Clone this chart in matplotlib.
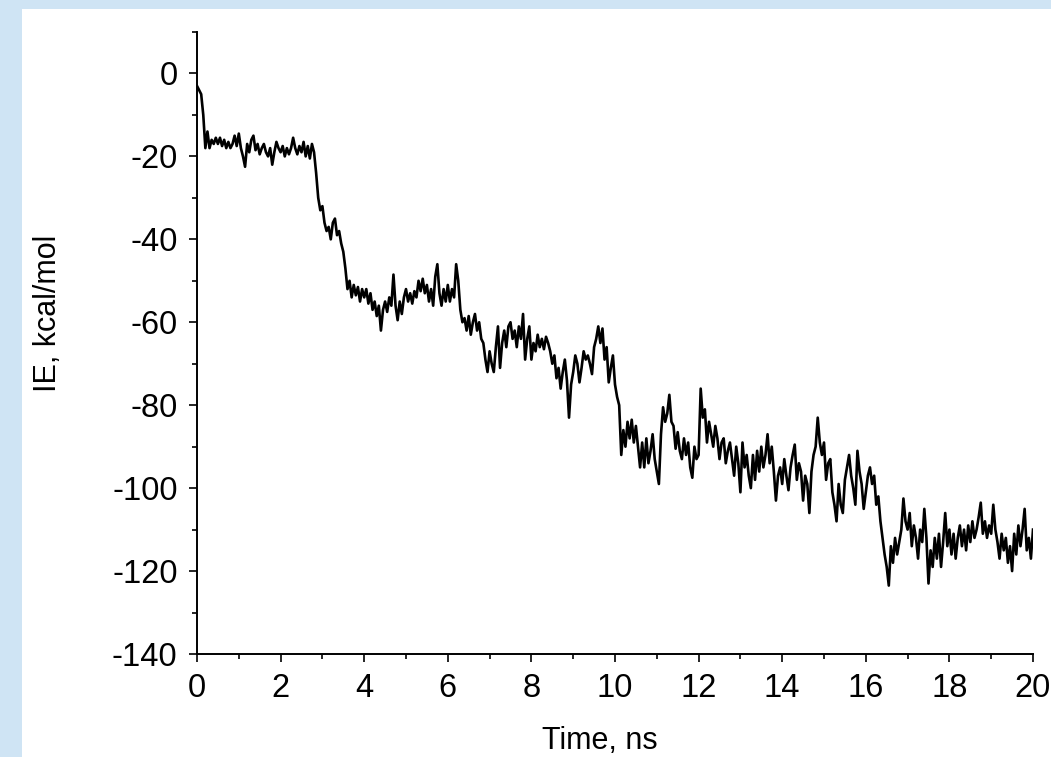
import numpy as np
import matplotlib
matplotlib.use('Agg')
import matplotlib.pyplot as plt
from matplotlib.patches import Rectangle
from matplotlib.ticker import MultipleLocator

plt.rcParams['font.family'] = ['Liberation Sans', 'DejaVu Sans']
plt.rcParams['axes.unicode_minus'] = False

# time axis, ns (0.05 ns step)
time_ns = np.arange(0, 401) * 0.05

# interaction energy, kcal/mol, one row per ns
ie = [
    -3, -4, -5, -10, -18, -14, -18, -16, -17, -15.5, -17, -15.5, -17.5, -16, -18, -16.5, -18, -17, -15, -17.5,
    -14.5, -18, -20, -22.5, -17, -19, -16, -15, -18.5, -17, -19.5, -18, -17, -19, -20, -18, -22, -19, -16.5, -18,
    -19, -17.5, -20, -18, -19.5, -18, -15.5, -18, -19.5, -17.5, -19, -16.5, -20, -17.5, -20.5, -17, -19, -24, -30, -33,
    -32, -36, -38, -37, -40, -36, -35, -39, -38, -41, -43, -47, -52, -50, -54, -51, -53.5, -51.5, -55, -52,
    -54, -52, -55.5, -53, -57, -55, -58.5, -56, -62, -57, -55, -57.5, -54, -56, -48.5, -56, -59.5, -55, -58, -54,
    -52, -55, -53, -55.5, -52.5, -54, -50, -52.5, -49.5, -53, -51, -55, -52, -56, -49, -46, -53, -56, -52, -55,
    -51, -55, -52, -54, -46, -50, -57, -60, -59, -62, -58.5, -63, -60, -58, -62, -60, -64, -65, -69, -72,
    -67, -70, -72, -66, -61, -71, -65, -62, -66, -61, -60, -64, -62, -66, -61, -64, -58, -69, -64, -61,
    -69, -65, -67, -63, -66, -64, -66.5, -63.5, -65, -67, -70, -68, -73.5, -71, -76, -72, -69, -74, -83, -75,
    -72, -68, -70, -74.5, -71, -67, -69, -68, -70, -72.5, -66, -64, -61, -65, -61.5, -69, -66, -74.5, -71, -68,
    -75, -78, -80, -92, -86, -90, -84, -88, -83.5, -89, -85, -90, -95, -89, -95, -88, -94, -91, -87, -93,
    -96, -99, -87, -80.5, -84, -82, -77.5, -84, -85, -90.5, -86.5, -91, -93, -88, -92, -89, -95, -97.5, -90, -93,
    -92, -76, -83, -81, -89, -84, -87, -90, -85, -88, -93, -89, -88, -94, -91, -89, -93, -97, -90, -94,
    -101, -89, -95, -92, -97, -100, -92, -98, -91, -96, -90, -95, -92, -87, -94, -90, -96, -103, -97, -95,
    -99, -93, -97, -100.5, -95, -92, -89.5, -98, -94, -96, -103, -97, -99, -106, -96, -92, -90, -83, -89, -92,
    -89, -98, -94, -93, -101, -104, -108, -99, -104, -106, -98, -95, -92, -97, -100, -104, -91, -96, -99, -105,
    -101, -97, -95, -99, -97, -104, -102, -108, -112, -116, -119, -123.5, -114, -118, -112, -116, -113, -110, -102.5, -108,
    -110, -106, -114, -109, -112, -117, -110, -113, -105, -112, -123, -115, -119, -112, -117, -111, -119, -113, -106, -114,
    -110, -116, -111, -117, -112, -109, -114, -110, -115, -109, -113, -108, -112, -110, -107, -103.5, -111, -108, -112, -109,
    -111, -104, -110, -113, -117, -111, -115, -112, -118, -114, -120, -111, -116, -109, -114, -110, -105, -115, -112, -117,
    -110,
]

fig = plt.figure(figsize=(10.51, 7.57), dpi=100)
fig.patch.set_facecolor('white')

# light blue frame on top and left edge
fig.patches.append(Rectangle((0, 0), 22 / 1051, 1, transform=fig.transFigure,
                             facecolor='#cfe4f4', edgecolor='none', zorder=0))
fig.patches.append(Rectangle((0, 1 - 9 / 757), 1, 9 / 757, transform=fig.transFigure,
                             facecolor='#cfe4f4', edgecolor='none', zorder=0))

ax = fig.add_axes([197 / 1051, 1 - 654 / 757, 836 / 1051, 622 / 757])
ax.plot(time_ns, ie, color='black', linewidth=1.9)

ax.set_xlim(0, 20)
ax.set_ylim(-140, 10)
ax.xaxis.set_major_locator(MultipleLocator(2))
ax.xaxis.set_minor_locator(MultipleLocator(1))
ax.yaxis.set_major_locator(MultipleLocator(20))
ax.yaxis.set_minor_locator(MultipleLocator(10))

for s in ['top', 'right']:
    ax.spines[s].set_visible(False)
for s in ['left', 'bottom']:
    ax.spines[s].set_linewidth(1.4)

ax.tick_params(which='major', direction='out', length=6, width=1.2, labelsize=23.5, pad=8)
ax.tick_params(which='minor', direction='out', length=3.6, width=1.2)

ax.set_xlabel('Time, ns', fontsize=22)
ax.set_ylabel('IE, kcal/mol', fontsize=22)
ax.xaxis.set_label_coords(0.482, -0.115)
ax.yaxis.set_label_coords(-0.178, 0.548)
ax.xaxis.label.set_va('top')
ax.yaxis.label.set_va('center')

fig.savefig('out.png', dpi=100)
